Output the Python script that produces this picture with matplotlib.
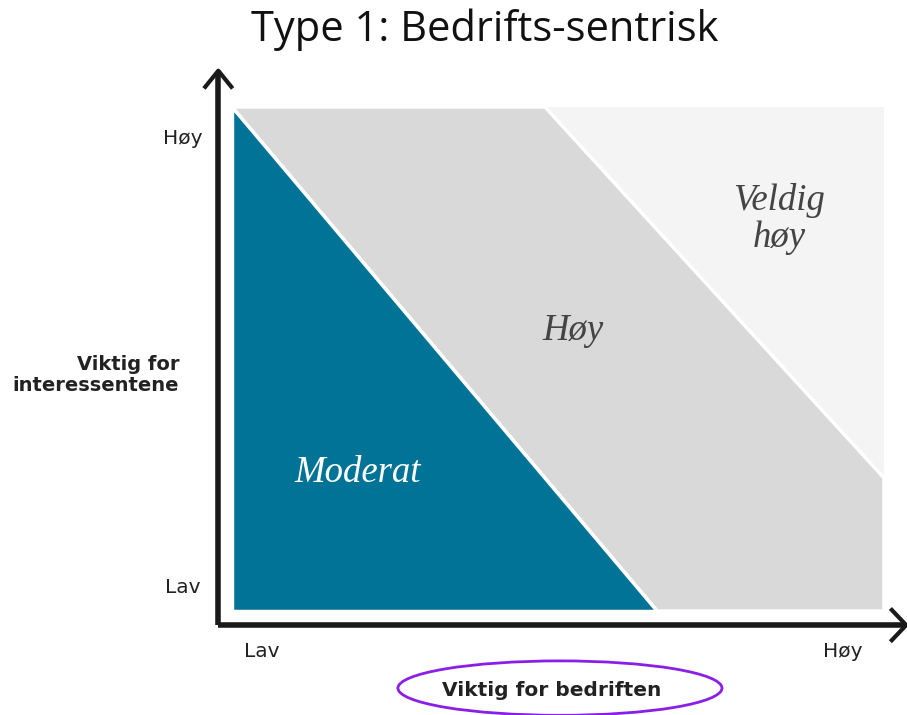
import matplotlib
import matplotlib.pyplot as plt
from matplotlib.patches import Polygon, Ellipse

matplotlib.use("agg")

# zone boundaries (x = viktig for bedriften, y = viktig for interessentene, 0..1)
moderat_x = [0.0, 0.0, 0.652]
moderat_y = [1.0, 0.0, 0.0]
hoy_x = [0.0, 0.48, 1.0, 1.0, 0.652]
hoy_y = [1.0, 1.0, 0.264, 0.0, 0.0]

zone_labels = ["Moderat", "Høy", "Veldig\nhøy"]
zone_label_x = [0.193, 0.523, 0.839]
zone_label_y = [0.274, 0.556, 0.778]
zone_label_colors = ["white", "#444444", "#444444"]

tick_labels = ["Lav", "Høy"]

fig: plt.Figure = plt.figure(figsize=(9.07, 7.15), dpi=100)
W, H = 907, 715
ax = fig.add_axes([232 / W, 1 - 611 / H, (884 - 232) / W, (611 - 107) / H])
ax.set_xlim(0, 1)
ax.set_ylim(0, 1)
ax.axis("off")

ax.add_patch(Polygon([[0, 0], [1, 0], [1, 1], [0, 1]], closed=True,
                     facecolor="#F4F4F4", edgecolor="none"))
ax.add_patch(Polygon(list(zip(hoy_x, hoy_y)), closed=True,
                     facecolor="#D9D9D9", edgecolor="white", linewidth=2.5))
ax.add_patch(Polygon(list(zip(moderat_x, moderat_y)), closed=True,
                     facecolor="#007396", edgecolor="white", linewidth=2.5))

for txt, x, y, c in zip(zone_labels, zone_label_x, zone_label_y, zone_label_colors):
    ax.text(x, y, txt, color=c, ha="center", va="center", fontsize=26.5,
            family="Liberation Serif", style="italic", linespacing=1.1)

# axis arrows
ax.plot([-0.021, -0.021], [-0.028, 1.068], color="#1a1a1a", lw=4,
        clip_on=False, solid_capstyle="butt")
ax.plot([-0.022, 1.032], [-0.028, -0.028], color="#1a1a1a", lw=4,
        clip_on=False, solid_capstyle="butt")
ax.plot([-0.041, -0.021, -0.001], [1.040, 1.072, 1.040], color="#1a1a1a",
        lw=3, clip_on=False)
ax.plot([1.012, 1.034, 1.012], [0.002, -0.028, -0.058], color="#1a1a1a",
        lw=3, clip_on=False)

# tick labels
tick_kw = dict(ha="center", va="center", fontsize=14.5, family="DejaVu Sans",
               color="#222222")
ax.text(-0.075, 0.938, tick_labels[1], **tick_kw)
ax.text(-0.075, 0.046, tick_labels[0], **tick_kw)
ax.text(0.046, -0.08, tick_labels[0], **tick_kw)
ax.text(0.936, -0.08, tick_labels[1], **tick_kw)

# axis titles
ax.text(-0.081, 0.468, "Viktig for\ninteressentene", ha="right", va="center",
        fontsize=14, fontweight="bold", family="DejaVu Sans", color="#222222",
        linespacing=1.1)
ax.text(0.491, -0.157, "Viktig for bedriften", ha="center", va="center",
        fontsize=14.5, fontweight="bold", family="DejaVu Sans", color="#222222")
ax.add_patch(Ellipse((0.503, -0.153), 0.497, 0.108, facecolor="none",
                     edgecolor="#8A1FE8", lw=2, clip_on=False))

fig.text(0.534, 1 - 30 / H, "Type 1: Bedrifts-sentrisk", ha="center",
         va="center", fontsize=30, family="Open Sans", color="#111111")

fig.savefig("out.png", dpi=100)
